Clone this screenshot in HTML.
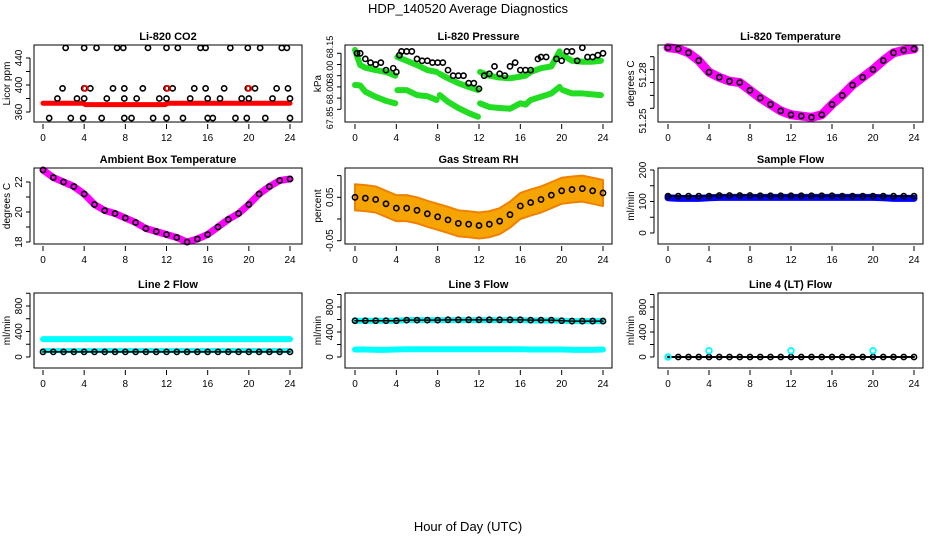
<!DOCTYPE html>
<html><head><meta charset="utf-8"><style>
body{margin:0;background:#fff;}
svg text{font-family:"Liberation Sans",sans-serif;}
</style></head><body>
<svg id="chart" width="936" height="540" xmlns="http://www.w3.org/2000/svg">
<rect width="936" height="540" fill="#fff"/>
<text x="468" y="13" text-anchor="middle" font-size="13">HDP_140520  Average Diagnostics</text>
<text x="468" y="531" text-anchor="middle" font-size="13">Hour of Day (UTC)</text>
</svg>
<script>
const hours=[0,1,2,3,4,5,6,7,8,9,10,11,12,13,14,15,16,17,18,19,20,21,22,23,24];
const xTicks=[0,4,8,12,16,20,24];
// CO2
const co2RedH=[0,3.9,4.1,11.9,12.1,24];
const co2RedV=[373,373,371,371,373,373];
const co2RedPtsH=[4.1,12.1,20];
const co2RedPtsV=[395,395,395];
const co2TopH=[2.2,4.0,5.2,7.2,7.8,10.2,12.0,13.1,15.3,15.8,18.2,19.9,21.1,23.2,23.7];
const co2MidH=[1.4,3.3,4,6.2,7.9,9.1,11.3,12,14.3,16,17.2,19.3,20,22.3,24];
const co2HiH=[1.9,4,4.6,6.8,7.9,9.7,12,12.6,14.7,15.8,17.6,19.9,20.6,22.7,23.8];
const co2LowH=[0.6,2.7,3.9,5.7,7.9,8.6,10.7,12,13.6,16,16.5,18.7,19.8,21.6,24];
const co2Levels=[455,380,395,351];
// Pressure
const presUpH=[0,0.5,1,2,3,3.9,null,4.1,5,6,7,7.9,null,8.2,9,10,11,11.9,null,12.1,13,14,15,16,16.5,17,18,19,19.8,null,20.1,21,22,23,23.8];
const presUpV=[68.168,68.087,68.073,68.06,68.05,68.03,null,68.13,68.11,68.087,68.06,68.05,null,68.04,68.016,67.99,67.97,67.953,null,68.05,68.03,68.02,68.016,68.025,68.03,68.05,68.07,68.08,68.16,null,68.14,68.11,68.105,68.105,68.11];
const presLoH=[0,0.5,1,2,3,3.9,null,4.1,5,6,7,7.9,null,8.2,9,10,11,11.9,null,12.1,13,14,15,16,16.5,17,18,19,19.8,null,20.1,21,22,23,23.8];
const presLoV=[67.98,67.978,67.944,67.917,67.895,67.882,null,67.953,67.953,67.926,67.92,67.9,null,67.926,67.89,67.857,67.83,67.81,null,67.882,67.862,67.857,67.853,67.882,67.875,67.9,67.917,67.935,67.97,null,67.953,67.935,67.935,67.93,67.926];
const presBlkH=[0.2,0.5,1,1.5,2,2.5,3,3.7,4,4.3,4.5,5,5.5,6,6.5,7,7.5,8,8.5,9,9.5,10,10.5,11,11.5,12,12.5,13,13.5,14,14.5,15,15.5,16,16.5,17,17.7,18,18.5,19.5,20,20.5,21,21.5,22,22.5,23,23.5,24];
const presBlkV=[68.15,68.15,68.12,68.1,68.09,68.1,68.06,68.07,68.05,68.14,68.16,68.16,68.16,68.12,68.11,68.11,68.1,68.1,68.1,68.06,68.03,68.03,68.03,67.99,67.99,67.96,68.03,68.04,68.08,68.04,68.03,68.08,68.1,68.06,68.06,68.06,68.12,68.13,68.13,68.12,68.11,68.16,68.16,68.11,68.18,68.13,68.13,68.14,68.15];
// Temperatures
const liTempV=[51.297,51.296,51.293,51.287,51.278,51.274,51.271,51.270,51.264,51.258,51.253,51.248,51.245,51.244,51.243,51.245,51.253,51.260,51.268,51.274,51.280,51.287,51.293,51.295,51.296];
const ambV=[22.8,22.3,22.0,21.7,21.2,20.5,20.1,19.9,19.6,19.3,18.9,18.7,18.5,18.3,18.0,18.2,18.5,19.0,19.5,19.9,20.5,21.2,21.7,22.1,22.2];
// RH
const rhV=[0.05,0.048,0.045,0.035,0.025,0.025,0.02,0.012,0.005,-0.002,-0.01,-0.012,-0.015,-0.012,-0.005,0.01,0.03,0.038,0.045,0.055,0.065,0.068,0.07,0.065,0.06];
const rhSpread=[0.03,0.03,0.03,0.03,0.03,0.03,0.03,0.03,0.03,0.03,0.03,0.03,0.03,0.03,0.03,0.03,0.03,0.03,0.03,0.03,0.03,0.03,0.03,0.03,0.03];
// Flows
const sampleBlue=[112,110,110,110,112,113,113,113,113,113,113,113,113,113,113,113,113,113,113,113,113,112,110,110,110];
const sampleBlack=[117,117,117,117,117,119,119,119,119,118,118,118,118,118,118,118,118,117,117,117,117,117,117,117,117];
const l2CyanHi=[280,280,280,280,280,280,280,280,280,280,280,280,280,280,280,280,280,280,280,280,280,280,280,280,280];
const l2CyanLo=[100,100,100,100,100,100,100,100,100,100,100,100,100,100,100,100,100,100,100,100,100,100,100,100,100];
const l2Black=[80,80,80,80,80,80,80,80,80,80,80,80,80,80,80,80,80,80,80,80,80,80,80,80,80];
const l3CyanHi=[580,580,580,580,580,590,590,590,590,590,590,590,590,590,590,590,590,585,585,585,580,575,575,575,575];
const l3CyanLo=[120,120,115,115,120,125,125,125,125,125,125,125,125,125,125,125,125,120,120,120,120,115,115,115,120];
const l3Black=[580,580,580,580,580,590,590,590,590,595,595,595,595,595,595,595,595,590,590,590,580,575,575,575,575];
const l4Black=[0,0,0,0,0,0,0,0,0,0,0,0,0,0,0,0,0,0,0,0,0,0,0,0,0];
const l4SpikeH=[0,4,12,20];
const l4SpikeV=[0,100,100,100];

const NS='http://www.w3.org/2000/svg';
const svg=document.getElementById('chart');
function mk(tag,attrs,parent){const e=document.createElementNS(NS,tag);for(const k in attrs)e.setAttribute(k,attrs[k]);(parent||svg).appendChild(e);return e;}

const cols=[{bx0:34,bx1:302,h0:43,h24:290},{bx0:345,bx1:612,h0:355,h24:603},{bx0:658,bx1:923,h0:668,h24:914}];
const rows=[{by0:45,by1:122},{by0:168,by1:244},{by0:293,by1:368}];

function panel(name,title,c,r,v0,p0,v1,p1,ticks,labels,ylab,fs){
  const C=cols[c],R=rows[r];
  const g=mk('g',{});
  
  
  const X=h=>C.h0+(C.h24-C.h0)*h/24;
  const Y=v=>p0+(p1-p0)*(v-v0)/(v1-v0);
  const t=mk('text',{x:(C.bx0+C.bx1)/2,y:R.by0-5,'text-anchor':'middle','font-size':11,'font-weight':'bold'},g);
  t.textContent=title;
  
  
  const ax=C.bx0-4;
  ticks.forEach(v=>{mk('line',{x1:ax-4,x2:ax,y1:Y(v),y2:Y(v),stroke:'#000'},g);});
  mk('line',{x1:ax,x2:ax,y1:Y(ticks[0]),y2:Y(ticks[ticks.length-1]),stroke:'#000'},g);
  labels.forEach(l=>{const yy=l[2]!==undefined?l[2]:Y(l[0]);const tx=mk('text',{x:0,y:0,'text-anchor':'middle','font-size':fs||10,transform:`translate(${ax-8},${yy}) rotate(-90)`},g);tx.textContent=l[1];
    
    });
  const yl=mk('text',{x:0,y:0,'text-anchor':'middle','font-size':10,transform:`translate(${C.bx0-24},${(R.by0+R.by1)/2}) rotate(-90)`},g);
  yl.textContent=ylab;
  
  
  xTicks.forEach(h=>{mk('line',{x1:X(h),x2:X(h),y1:R.by1+2,y2:R.by1+7,stroke:'#000'},g);
    const tx=mk('text',{x:X(h),y:R.by1+19,'text-anchor':'middle','font-size':10},g);tx.textContent=h;
    
    });
  const plot=mk('g',{},g);
  
  
  const box=mk('rect',{x:C.bx0,y:R.by0,width:C.bx1-C.bx0,height:R.by1-R.by0,fill:'none',stroke:'#000'},g);
  
  
  return {X,Y,plot};
}
function band(P,hs,vs,color,w){let d='';let start=true;hs.forEach((h,i)=>{if(h===null){start=true;return;}d+=(start?'M':'L')+P.X(h)+' '+P.Y(vs[i]);start=false;});
  const p=mk('path',{d,fill:'none',stroke:color,'stroke-width':w,'stroke-linejoin':'round','stroke-linecap':'round'},P.plot);
  
  }
function circles(P,hs,vs,color,r,sw){hs.forEach((h,i)=>{if(h===null)return;const c=mk('circle',{cx:P.X(h),cy:P.Y(vs[i]),r:r||2.6,fill:'none',stroke:color||'#000','stroke-width':sw||1.6},P.plot);
  
  });}

// CO2
let P=panel('co2-panel','Li-820 CO2',0,0,360,112,440,58,[360,380,400,420,440],[[360,'360'],[400,'400'],[440,'440']],'Licor ppm');
band(P,co2RedH,co2RedV,'#f00',5);
circles(P,co2TopH,co2TopH.map(()=>co2Levels[0]));
circles(P,co2MidH,co2MidH.map(()=>co2Levels[1]));
circles(P,co2HiH,co2HiH.map(()=>co2Levels[2]));
circles(P,co2LowH,co2LowH.map(()=>co2Levels[3]));
circles(P,co2RedPtsH,co2RedPtsV,'#f00');
// Pressure
P=panel('pressure-panel','Li-820 Pressure',1,0,67.85,109.3,68.15,53.3,[67.85,67.91,67.97,68.03,68.09,68.15],[[68.15,'68.15',47],[68.03,'68.00',72],[67.91,'68.00',93],[67.85,'67.85',118]],'kPa',9);
band(P,presUpH,presUpV,'#22dd22',6);
band(P,presLoH,presLoV,'#22dd22',6);
circles(P,presBlkH,presBlkV);
// Li temp
P=panel('li820-temp-panel','Li-820 Temperature',2,0,51.25,108.3,51.29,56.7,[51.25,51.26,51.27,51.28,51.29],[[51.25,'51.25',121],[51.28,'51.28',75]],'degrees C');
band(P,hours,liTempV,'#ff00ff',9);
circles(P,hours,liTempV);
// Ambient
P=panel('ambient-temp-panel','Ambient Box Temperature',0,1,18,242,22,182,[18,19,20,21,22],[[18,'18'],[20,'20'],[22,'22']],'degrees C');
band(P,hours,ambV,'#ff00ff',7);
circles(P,hours,ambV);
// RH
P=panel('rh-panel','Gas Stream RH',1,1,0,219,0.05,197.3,[-0.05,0,0.05,0.1],[[-0.05,'-0.05'],[0.05,'0.05']],'percent');
{let d='';hours.forEach((h,i)=>{d+=(i?'L':'M')+P.X(h)+' '+P.Y(rhV[i]+rhSpread[i]);});
 for(let i=hours.length-1;i>=0;i--)d+='L'+P.X(hours[i])+' '+P.Y(rhV[i]-rhSpread[i]);d+='Z';
 const p=mk('path',{d,fill:'#f6a400',stroke:'#f08000','stroke-width':2,'stroke-linejoin':'round'},P.plot);
 
 }
circles(P,hours,rhV);
// Sample flow
P=panel('sample-flow-panel','Sample Flow',2,1,0,233,200,170,[0,50,100,150,200],[[0,'0'],[100,'100'],[200,'200']],'ml/min');
band(P,hours,sampleBlue,'#0000ff',7);
band(P,hours,sampleBlack,'#000',1.5);
circles(P,hours,sampleBlack);
// Line 2
P=panel('line2-flow-panel','Line 2 Flow',0,2,0,357,800,306,[0,200,400,600,800,1000],[[0,'0'],[400,'400'],[800,'800']],'ml/min');
band(P,hours,l2CyanHi,'#00ffff',6);
band(P,hours,l2CyanLo,'#00ffff',5);
band(P,hours,l2Black,'#000',1.5);
circles(P,hours,l2Black);
// Line 3
P=panel('line3-flow-panel','Line 3 Flow',1,2,0,357,800,307,[0,200,400,600,800,1000],[[0,'0'],[400,'400'],[800,'800']],'ml/min');
band(P,hours,l3CyanHi,'#00ffff',6);
band(P,hours,l3CyanLo,'#00ffff',6);
band(P,hours,l3Black,'#000',1.5);
circles(P,hours,l3Black);
// Line 4
P=panel('line4-flow-panel','Line 4 (LT) Flow',2,2,0,357,800,307,[0,200,400,600,800,1000],[[0,'0'],[400,'400'],[800,'800']],'ml/min');
band(P,hours,l4Black,'#000',2);
circles(P,hours,l4Black);
circles(P,l4SpikeH,l4SpikeV,'#00ffff',2.8,1.8);
</script>
</body></html>
